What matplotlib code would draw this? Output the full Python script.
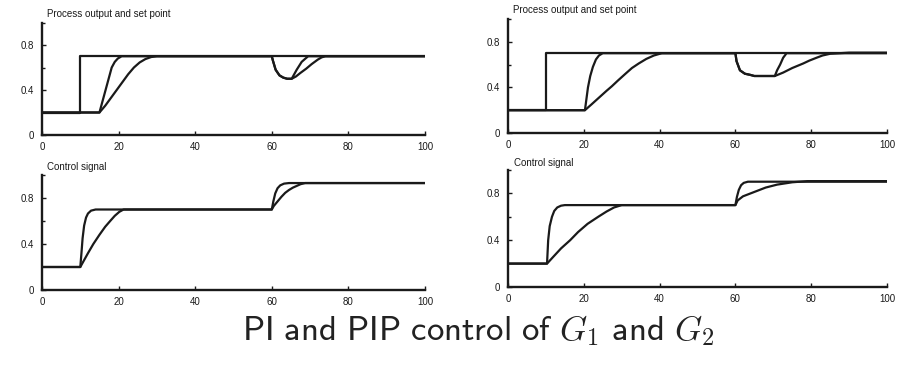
import matplotlib
matplotlib.use("Agg")
import matplotlib.pyplot as plt

plt.rcParams['font.family'] = ['Liberation Sans', 'DejaVu Sans']
plt.rcParams['mathtext.fontset'] = 'cm'

# ---------------- data ----------------
# Set point (same in both process-output panels)
sp_t = [0, 10, 10, 100]
sp_y = [0.2, 0.2, 0.7, 0.7]

# G1 : process output
g1_y_fast_t = [0, 15, 15.8, 16.6, 17.4, 18.2, 19.0, 19.8, 20.8, 60, 60.3, 61, 62, 63, 64, 65.2,
               66.5, 67.8, 68.8, 69.5, 100]
g1_y_fast_v = [0.2, 0.2, 0.3, 0.4, 0.5, 0.6, 0.65, 0.68, 0.7, 0.7, 0.66, 0.58, 0.53, 0.51, 0.5, 0.5,
               0.58, 0.65, 0.68, 0.7, 0.7]
g1_y_slow_t = [0, 15, 16.5, 18.0, 19.5, 21.0, 22.5, 24.0, 25.5, 27.0, 28.5, 30.0, 60, 60.3, 61, 62,
               63, 64, 65.2, 66.3, 67.4, 69.0, 70.4, 72.0, 73.0, 74.0, 100]
g1_y_slow_v = [0.2, 0.2, 0.26, 0.33, 0.4, 0.47, 0.54, 0.6, 0.645, 0.675, 0.693, 0.7, 0.7, 0.66, 0.58, 0.53,
               0.51, 0.5, 0.5, 0.52, 0.55, 0.59, 0.63, 0.67, 0.69, 0.7, 0.7]

# G1 : control signal
g1_u_fast_t = [0, 10, 10.3, 10.6, 11.0, 11.5, 12.0, 12.8, 14.0, 16, 60, 60.4, 60.9, 61.5, 62.2,
               63.2, 64.5, 100]
g1_u_fast_v = [0.2, 0.2, 0.32, 0.45, 0.56, 0.63, 0.665, 0.69, 0.7, 0.7, 0.7, 0.77, 0.84, 0.885, 0.91,
               0.925, 0.93, 0.93]
g1_u_slow_t = [0, 10, 11.0, 12.0, 13.4, 15.0, 16.5, 17.8, 19.0, 20.2, 21.3, 60, 60.5, 61.5, 62.5,
               63.5, 64.5, 65.5, 66.5, 67.5, 68.7, 100]
g1_u_slow_v = [0.2, 0.2, 0.26, 0.32, 0.4, 0.48, 0.55, 0.6, 0.645, 0.68, 0.7, 0.7, 0.73, 0.77, 0.81,
               0.845, 0.87, 0.89, 0.905, 0.92, 0.93, 0.93]

# G2 : process output
g2_y_fast_t = [0, 20.3, 20.7, 21.1, 21.7, 22.4, 23.2, 24.0, 25.0, 60, 60.3, 61.2, 62.5, 63.9, 65,
               70.4, 71.0, 71.8, 72.6, 73.5, 100]
g2_y_fast_v = [0.2, 0.2, 0.3, 0.4, 0.5, 0.58, 0.645, 0.68, 0.7, 0.7, 0.63, 0.55, 0.52, 0.51, 0.5,
               0.5, 0.55, 0.6, 0.66, 0.7, 0.7]
g2_y_slow_t = [0, 20.3, 22.0, 24.0, 26.0, 27.4, 29.0, 31.0, 32.7, 34.5, 36.5, 38.5, 40.6, 60, 60.3,
               61.2, 62.5, 63.9, 65, 70.4, 72.6, 75.0, 77.9, 79.5, 81.4, 83.0, 85.0, 90, 100]
g2_y_slow_v = [0.2, 0.2, 0.25, 0.31, 0.37, 0.41, 0.46, 0.52, 0.57, 0.61, 0.65, 0.68, 0.7, 0.7, 0.63,
               0.55, 0.52, 0.51, 0.5, 0.5, 0.53, 0.57, 0.61, 0.635, 0.66, 0.68, 0.695, 0.705, 0.705]

# G2 : control signal
g2_u_fast_t = [0, 10.3, 10.6, 11.0, 11.6, 12.2, 13.0, 14.0, 15.0, 60, 60.4, 60.9, 61.5, 62.2, 63.3,
               100]
g2_u_fast_v = [0.2, 0.2, 0.4, 0.52, 0.6, 0.65, 0.68, 0.695, 0.7, 0.7, 0.77, 0.83, 0.87, 0.89, 0.9,
               0.9]
g2_u_slow_t = [0, 10.3, 12.0, 14.0, 16.4, 18.5, 21.0, 23.8, 26.0, 28.0, 30.0, 60, 60.6, 62, 64, 66,
               68, 71, 75, 79, 100]
g2_u_slow_v = [0.2, 0.2, 0.26, 0.33, 0.4, 0.47, 0.54, 0.6, 0.645, 0.68, 0.7, 0.7, 0.74, 0.775, 0.8,
               0.825, 0.85, 0.875, 0.895, 0.905, 0.905]

x_ticks = [0, 20, 40, 60, 80, 100]
x_ticklabels = ['0', '20', '40', '60', '80', '100']
y_ticks = [0, 0.4, 0.8]
y_ticklabels = ['0', '0.4', '0.8']
y_minor = [0.6, 1.0]

titles = ['Process output and set point', 'Control signal',
          'Process output and set point', 'Control signal']
caption = r'$\mathsf{PI\ and\ PIP\ control\ of\ }G_1\mathsf{\ and\ }G_2$'

# ---------------- figure ----------------
W, H = 909, 366
fig = plt.figure(figsize=(W / 100, H / 100), dpi=100)
ink = '#1a1a1a'


def px_axes(x0, x1, ytop, ybot):
    return fig.add_axes([x0 / W, 1 - ybot / H, (x1 - x0) / W, (ybot - ytop) / H])


ax_tl = px_axes(42, 425, 22.5, 135)
ax_bl = px_axes(42, 425, 175, 290)
ax_tr = px_axes(508, 887, 19, 133)
ax_br = px_axes(508, 887, 170, 287)

for ax in (ax_tl, ax_bl, ax_tr, ax_br):
    ax.set_xlim(0, 100)
    ax.set_ylim(0, 1.0)
    for s in ('top', 'right'):
        ax.spines[s].set_visible(False)
    for s in ('left', 'bottom'):
        ax.spines[s].set_linewidth(1.7)
        ax.spines[s].set_color(ink)
    ax.set_xticks(x_ticks)
    ax.set_xticklabels(x_ticklabels)
    ax.set_yticks(y_ticks)
    ax.set_yticklabels(y_ticklabels)
    ax.set_yticks(y_minor, minor=True)
    ax.tick_params(axis='both', which='major', direction='in', length=3, width=1.0,
                   labelsize=7, colors=ink)
    ax.tick_params(axis='x', which='major', pad=5)
    ax.tick_params(axis='y', which='major', pad=6)
    ax.tick_params(axis='y', which='minor', direction='in', length=2.5, width=1.0, colors=ink)
    ax.patch.set_alpha(0)

lw = 1.6
ax_tl.plot(sp_t, sp_y, color=ink, lw=lw)
ax_tl.plot(g1_y_fast_t, g1_y_fast_v, color=ink, lw=lw)
ax_tl.plot(g1_y_slow_t, g1_y_slow_v, color=ink, lw=lw)

ax_bl.plot(g1_u_fast_t, g1_u_fast_v, color=ink, lw=lw)
ax_bl.plot(g1_u_slow_t, g1_u_slow_v, color=ink, lw=lw)

ax_tr.plot(sp_t, sp_y, color=ink, lw=lw)
ax_tr.plot(g2_y_fast_t, g2_y_fast_v, color=ink, lw=lw)
ax_tr.plot(g2_y_slow_t, g2_y_slow_v, color=ink, lw=lw)

ax_br.plot(g2_u_fast_t, g2_u_fast_v, color=ink, lw=lw)
ax_br.plot(g2_u_slow_t, g2_u_slow_v, color=ink, lw=lw)

title_pos = [(47, 14), (47, 167), (513, 10), (514, 163)]
for (px, py), t in zip(title_pos, titles):
    fig.text(px / W, 1 - py / H, t, fontsize=7, color=ink, ha='left', va='center')

fig.text(478 / W, 1 - 340 / H, caption, fontsize=25, color='#222222', ha='center', va='baseline')

fig.savefig('out.png', dpi=100)
